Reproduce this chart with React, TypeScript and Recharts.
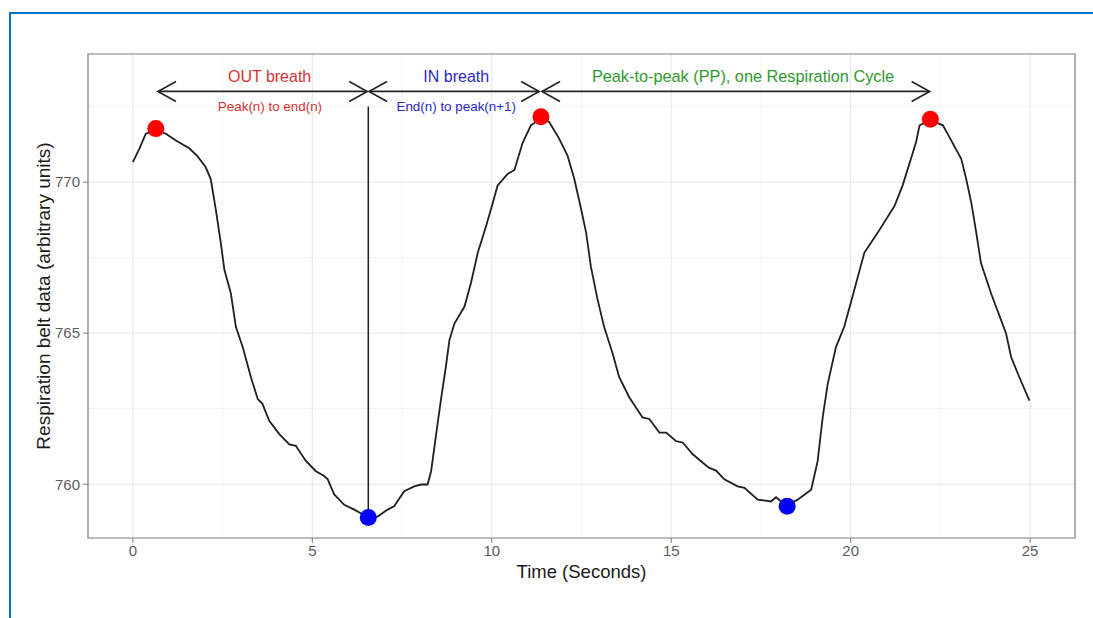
import React from 'react';
import {
  ComposedChart,
  Line,
  Scatter,
  XAxis,
  YAxis,
  CartesianGrid,
  ReferenceLine,
  ReferenceDot,
  ReferenceArea,
} from 'recharts';

// respiration belt trace (seconds, arbitrary units)
const timeS = [
  0, 0.18, 0.36, 0.64, 0.92, 1.2, 1.57, 1.8, 2.03, 2.17, 2.31, 2.45, 2.55, 2.73, 2.87, 3.06, 3.29, 3.48,
  3.61, 3.8, 4.08, 4.36, 4.54, 4.82, 5.1, 5.33, 5.43, 5.61, 5.89, 6.17, 6.35, 6.56, 6.82, 7.1, 7.28, 7.56,
  7.84, 8.03, 8.21, 8.31, 8.45, 8.58, 8.72, 8.82, 8.96, 9.24, 9.42, 9.61, 9.84, 10.03, 10.16, 10.44, 10.63,
  10.86, 11.09, 11.37, 11.6, 11.88, 12.11, 12.3, 12.49, 12.63, 12.76, 12.95, 13.13, 13.37, 13.55, 13.83,
  14.2, 14.39, 14.67, 14.86, 15.13, 15.32, 15.6, 15.88, 16.06, 16.25, 16.48, 16.85, 17.04, 17.41, 17.78,
  17.92, 18.06, 18.23, 18.52, 18.9, 19.08, 19.22, 19.36, 19.59, 19.82, 20.1, 20.38, 20.75, 21.22, 21.45,
  21.66, 21.82, 21.92, 22.22, 22.57, 22.8, 23.08, 23.22, 23.36, 23.5, 23.63, 23.91, 24.19, 24.33, 24.47,
  24.7, 24.98,
];
const beltValue = [
  770.66, 771.1, 771.6, 771.72, 771.6, 771.38, 771.12, 770.86, 770.49, 770.1, 769.1, 767.99, 767.1, 766.32,
  765.21, 764.54, 763.54, 762.82, 762.66, 762.1, 761.66, 761.32, 761.27, 760.77, 760.43, 760.27, 760.16,
  759.66, 759.32, 759.16, 759.04, 758.9, 758.93, 759.16, 759.27, 759.77, 759.93, 759.99, 759.99, 760.43,
  761.66, 762.77, 763.88, 764.77, 765.32, 765.88, 766.66, 767.66, 768.54, 769.32, 769.88, 770.27, 770.4,
  771.3, 771.88, 772.1, 771.99, 771.43, 770.88, 770.1, 769.1, 768.32, 767.21, 766.1, 765.21, 764.32,
  763.54, 762.88, 762.21, 762.16, 761.71, 761.71, 761.43, 761.38, 760.99, 760.71, 760.54, 760.45, 760.16,
  759.93, 759.88, 759.49, 759.43, 759.57, 759.43, 759.3, 759.49, 759.82, 760.77, 762.21, 763.32, 764.54,
  765.21, 766.43, 767.66, 768.32, 769.21, 769.9, 770.7, 771.32, 771.88, 772.05, 771.88, 771.38, 770.77,
  770.1, 769.32, 768.32, 767.32, 766.32, 765.43, 764.99, 764.21, 763.54, 762.77,
];

const peakTimes = [0.64, 11.37, 22.22];
const peakValues = [771.77, 772.16, 772.08];
const troughTimes = [6.56, 18.23];
const troughValues = [758.9, 759.27];

const xTicks = [0, 5, 10, 15, 20, 25];
const xMinor = [2.5, 7.5, 12.5, 17.5, 22.5];
const yTicks = [760, 765, 770];
const yMinor = [762.5, 767.5, 772.5];
const xDomain = [-1.25, 26.25];
const yDomain = [758.22, 774.24];

const arrowY = 773;
const arrows = [
  { from: 0.7, to: 6.53 },
  { from: 6.58, to: 11.32 },
  { from: 11.4, to: 22.2 },
];
const labels = [
  { x: 3.81, y: 773.5, text: 'OUT breath', color: '#d63232', size: 16 },
  { x: 3.82, y: 772.5, text: 'Peak(n) to end(n)', color: '#d63232', size: 13.4 },
  { x: 9.01, y: 773.5, text: 'IN breath', color: '#2a2ac4', size: 16 },
  { x: 9.01, y: 772.5, text: 'End(n) to peak(n+1)', color: '#2a2ac4', size: 13.4 },
  { x: 17.0, y: 773.5, text: 'Peak-to-peak (PP), one Respiration Cycle', color: '#2f9a2f', size: 16.3 },
];

const signal = timeS.map((t, i) => ({ t, v: beltValue[i] }));
const peaks = peakTimes.map((t, i) => ({ t, v: peakValues[i] }));
const troughs = troughTimes.map((t, i) => ({ t, v: troughValues[i] }));

const arrowShape = (p: any) => {
  const { x1, y1, x2, y2 } = p;
  const L = 18;
  const H = 10;
  return (
    <g stroke="#262626" strokeWidth={1.7} fill="none">
      <line x1={x1} y1={y1} x2={x2} y2={y2} />
      <polyline points={`${x1 + L},${y1 - H} ${x1},${y1} ${x1 + L},${y1 + H}`} />
      <polyline points={`${x2 - L},${y2 - H} ${x2},${y2} ${x2 - L},${y2 + H}`} />
    </g>
  );
};

const dotShape = (color: string) => (p: any) => <circle cx={p.cx} cy={p.cy} r={8.5} fill={color} />;

export default function App() {
  return (
    <div
      style={{
        position: 'absolute',
        left: 0,
        top: 0,
        width: 1093,
        height: 618,
        overflow: 'hidden',
        background: '#fff',
        fontFamily: '"Liberation Sans", Arial, sans-serif',
      }}
    >
      <div
        style={{
          position: 'absolute',
          left: 9,
          top: 12,
          width: 1200,
          height: 700,
          borderLeft: '2px solid #0b6fd1',
          borderTop: '2px solid #0b6fd1',
        }}
      />
      <div style={{ position: 'absolute', left: 0, top: 0 }}>
        <ComposedChart width={1093} height={618} margin={{ top: 54, right: 18, bottom: 30, left: 28 }}>
          <CartesianGrid stroke="#f3f3f3" verticalValues={xMinor} horizontalValues={yMinor} />
          <CartesianGrid stroke="#e6e6e6" verticalValues={xTicks} horizontalValues={yTicks} />
          <XAxis
            type="number"
            dataKey="t"
            domain={xDomain}
            ticks={xTicks}
            allowDataOverflow
            height={50}
            axisLine={false}
            tickSize={5}
            tickMargin={2}
            tickLine={{ stroke: '#7a7a7a' }}
            tick={{ fill: '#5c5c5c', fontSize: 15 }}
            label={{ value: 'Time (Seconds)', position: 'insideBottom', offset: 10, fill: '#1a1a1a', fontSize: 18.5 }}
          />
          <YAxis
            type="number"
            dataKey="v"
            domain={yDomain}
            ticks={yTicks}
            allowDataOverflow
            width={60}
            axisLine={false}
            tickSize={5}
            tickMargin={3}
            tickLine={{ stroke: '#7a7a7a' }}
            tick={{ fill: '#5c5c5c', fontSize: 15 }}
            label={{
              value: 'Respiration belt data (arbitrary units)',
              angle: -90,
              position: 'insideLeft',
              offset: 15,
              fill: '#1a1a1a',
              fontSize: 19,
              style: { textAnchor: 'middle' },
            }}
          />
          <ReferenceArea
            x1={xDomain[0]}
            x2={xDomain[1]}
            y1={yDomain[0]}
            y2={yDomain[1]}
            fill="none"
            stroke="#7a7a7a"
            strokeWidth={1.2}
          />
          <Line
            data={signal}
            dataKey="v"
            type="linear"
            stroke="#1f1f1f"
            strokeWidth={1.8}
            dot={false}
            isAnimationActive={false}
          />
          <ReferenceLine
            segment={[
              { x: troughTimes[0], y: 772.5 },
              { x: troughTimes[0], y: troughValues[0] },
            ]}
            stroke="#1f1f1f"
            strokeWidth={1.5}
          />
          <Scatter data={peaks} dataKey="v" shape={dotShape('#ff0000')} isAnimationActive={false} />
          <Scatter data={troughs} dataKey="v" shape={dotShape('#0000ff')} isAnimationActive={false} />
          {arrows.map((a, i) => (
            <ReferenceLine
              key={`arrow-${i}`}
              segment={[
                { x: a.from, y: arrowY },
                { x: a.to, y: arrowY },
              ]}
              shape={arrowShape}
            />
          ))}
          {labels.map((l, i) => (
            <ReferenceDot
              key={`lbl-${i}`}
              x={l.x}
              y={l.y}
              r={0}
              fill="none"
              stroke="none"
              label={{ value: l.text, position: 'center', fill: l.color, fontSize: l.size }}
            />
          ))}
        </ComposedChart>
      </div>
    </div>
  );
}
